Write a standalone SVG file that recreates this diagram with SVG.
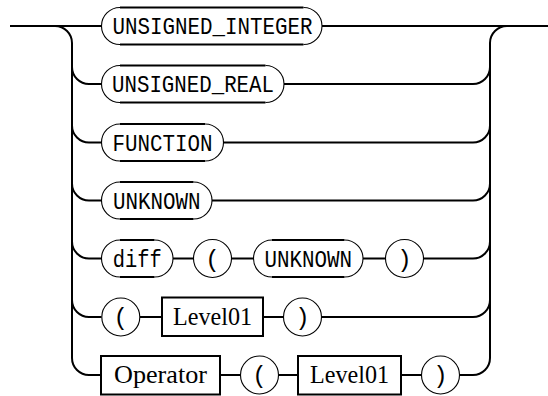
<svg xmlns="http://www.w3.org/2000/svg" width="548" height="396" viewBox="0 0 548 396">
<style>
.c{fill:none;stroke:#000;stroke-width:2}
.arc{fill:none;stroke:#000;stroke-width:1.1}
.bar{fill:none;stroke:#000;stroke-width:2}
.box{fill:#fff;stroke:#000;stroke-width:2}
.circ{fill:#fff;stroke:#000;stroke-width:1.1}
.tt{font-family:"Liberation Mono","DejaVu Sans Mono",monospace;font-size:24px;fill:#000}
.rm{font-family:"Liberation Serif","Times New Roman",serif;font-size:25.5px;fill:#000}
</style>
<rect width="548" height="396" fill="#fff"/>
<g id="connectors">
<path class="c" d="M10,26 H101.5 M322,26 H548"/>
<path class="c" d="M55,26 A17,17 0 0 1 72,43 V358"/>
<path class="c" d="M490,358 V43 A17,17 0 0 1 507,26"/>
<path class="c" d="M72,67 A17,17 0 0 0 89,84 H101.5 M284,84 H473 A17,17 0 0 0 490,67"/>
<path class="c" d="M72,125.5 A17,17 0 0 0 89,142.5 H101.5 M223.5,142.5 H473 A17,17 0 0 0 490,125.5"/>
<path class="c" d="M72,183.5 A17,17 0 0 0 89,200.5 H101.5 M212,200.5 H473 A17,17 0 0 0 490,183.5"/>
<path class="c" d="M72,241.5 A17,17 0 0 0 89,258.5 H101.5 M173,258.5 H193 M232,258.5 H253.5 M363,258.5 H385 M424,258.5 H473 A17,17 0 0 0 490,241.5"/>
<path class="c" d="M72,300 A17,17 0 0 0 89,317 H101.5 M140,317 H162 M263,317 H283 M322,317 H473 A17,17 0 0 0 490,300"/>
<path class="c" d="M72,358 A17,17 0 0 0 89,375 H101 M220,375 H240 M279,375 H298 M401,375 H421 M460,375 H473 A17,17 0 0 0 490,358"/>
</g>
<g id="n_unsigned_integer">
<path class="arc" d="M120,7.5 A18.5,18.5 0 0 0 120,44.5 M303.5,7.5 A18.5,18.5 0 0 1 303.5,44.5"/>
<path class="bar" d="M120,7.5 H303.5 M120,44.5 H303.5"/>
<text class="tt" x="212.5" y="34" text-anchor="middle" textLength="200" lengthAdjust="spacingAndGlyphs">UNSIGNED_INTEGER</text>
</g>
<g id="n_unsigned_real">
<path class="arc" d="M120,65.5 A18.5,18.5 0 0 0 120,102.5 M265.5,65.5 A18.5,18.5 0 0 1 265.5,102.5"/>
<path class="bar" d="M120,65.5 H265.5 M120,102.5 H265.5"/>
<text class="tt" x="193" y="92" text-anchor="middle" textLength="162" lengthAdjust="spacingAndGlyphs">UNSIGNED_REAL</text>
</g>
<g id="n_function">
<path class="arc" d="M120,124 A18.5,18.5 0 0 0 120,161 M205,124 A18.5,18.5 0 0 1 205,161"/>
<path class="bar" d="M120,124 H205 M120,161 H205"/>
<text class="tt" x="162.5" y="150.5" text-anchor="middle" textLength="100" lengthAdjust="spacingAndGlyphs">FUNCTION</text>
</g>
<g id="n_unknown">
<path class="arc" d="M120,182 A18.5,18.5 0 0 0 120,219 M193.5,182 A18.5,18.5 0 0 1 193.5,219"/>
<path class="bar" d="M120,182 H193.5 M120,219 H193.5"/>
<text class="tt" x="156.8" y="208.5" text-anchor="middle" textLength="87.5" lengthAdjust="spacingAndGlyphs">UNKNOWN</text>
</g>
<g id="n_diff">
<path class="arc" d="M120,240 A18.5,18.5 0 0 0 120,277 M154.5,240 A18.5,18.5 0 0 1 154.5,277"/>
<path class="bar" d="M120,240 H154.5 M120,277 H154.5"/>
<text class="tt" x="137.3" y="266.5" text-anchor="middle" textLength="49" lengthAdjust="spacingAndGlyphs">diff</text>
</g>
<g id="n_diff_lparen">
<circle class="circ" cx="212.5" cy="258.5" r="19"/>
<text class="tt" x="212.5" y="266.5" text-anchor="middle">(</text>
</g>
<g id="n_diff_unknown">
<path class="arc" d="M272,240 A18.5,18.5 0 0 0 272,277 M344.5,240 A18.5,18.5 0 0 1 344.5,277"/>
<path class="bar" d="M272,240 H344.5 M272,277 H344.5"/>
<text class="tt" x="308.3" y="266.5" text-anchor="middle" textLength="87.5" lengthAdjust="spacingAndGlyphs">UNKNOWN</text>
</g>
<g id="n_diff_rparen">
<circle class="circ" cx="404.5" cy="258.5" r="19"/>
<text class="tt" x="404.5" y="266.5" text-anchor="middle">)</text>
</g>
<g id="n_paren_lparen">
<circle class="circ" cx="120.8" cy="317" r="19"/>
<text class="tt" x="120.8" y="325" text-anchor="middle">(</text>
</g>
<g id="n_paren_level01">
<rect class="box" x="162" y="297.5" width="101" height="38.5"/>
<text class="rm" x="212.5" y="325" text-anchor="middle" textLength="79" lengthAdjust="spacingAndGlyphs">Level01</text>
</g>
<g id="n_paren_rparen">
<circle class="circ" cx="302.5" cy="317" r="19"/>
<text class="tt" x="302.5" y="325" text-anchor="middle">)</text>
</g>
<g id="n_operator">
<rect class="box" x="101" y="356" width="119" height="38.5"/>
<text class="rm" x="160.5" y="383" text-anchor="middle" textLength="93" lengthAdjust="spacingAndGlyphs">Operator</text>
</g>
<g id="n_op_lparen">
<circle class="circ" cx="259.5" cy="375" r="19"/>
<text class="tt" x="259.5" y="383" text-anchor="middle">(</text>
</g>
<g id="n_op_level01">
<rect class="box" x="298" y="356" width="103" height="38.5"/>
<text class="rm" x="349.5" y="383" text-anchor="middle" textLength="79" lengthAdjust="spacingAndGlyphs">Level01</text>
</g>
<g id="n_op_rparen">
<circle class="circ" cx="440.5" cy="375" r="19"/>
<text class="tt" x="440.5" y="383" text-anchor="middle">)</text>
</g>
</svg>
